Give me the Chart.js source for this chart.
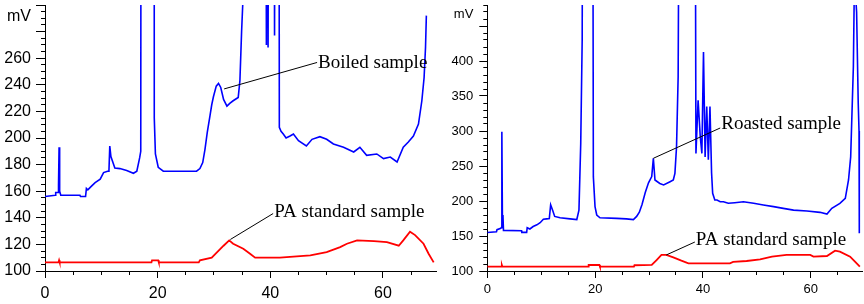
<!DOCTYPE html>
<html>
<head>
<meta charset="utf-8">
<script src="https://cdn.jsdelivr.net/npm/chart.js@4.4.1/dist/chart.umd.min.js"></script>
<style>
  html, body { margin: 0; padding: 0; background: #fff; }
  #wrap { position: relative; width: 864px; height: 304px; }
  canvas { position: absolute; top: 0; }
  #left { left: 0; }
  #right { left: 440px; }
</style>
</head>
<body>
<div id="wrap">
  <canvas id="left" width="440" height="304"></canvas>
  <canvas id="right" width="424" height="304"></canvas>
</div>
<script>
// retention time (min) / signal (mV)
const boiledTime = [0, 1.8, 1.9, 2.35, 2.4, 2.5, 2.6, 2.8, 6.2, 6.3, 7.2, 7.35, 7.6, 8.3, 8.9, 9.8, 10.4, 11.1, 11.35,
  11.5, 11.7, 12.4, 13.3, 14.5, 15.7, 16.3, 16.8, 17.0, 17.2, 19.3, 19.4, 19.6, 20.1, 21.0, 26.9, 27.5, 28.0, 28.4,
  28.8, 29.3, 29.6, 29.9, 30.4, 30.8, 31.2, 31.7, 32.3, 32.8, 33.4, 34.3, 34.6, 34.9, 35.3, 35.6, 39.0, 39.3, 39.45,
  39.6, 39.8, 40.6, 40.75, 40.9, 41.5, 41.6, 41.9, 42.3, 42.8, 43.5, 44.1, 45.0, 46.4, 47.4, 48.8, 50.0, 51.2, 53.0,
  54.8, 55.9, 57.1, 58.9, 60.1, 61.3, 62.5, 63.6, 64.5, 65.4, 66.3, 66.9, 67.3, 67.55, 67.7];
const boiledMv = [156, 157, 159, 159, 165, 193, 160, 157, 157, 156, 156, 162, 161, 164, 166.5, 169, 174, 175, 175,
  194, 186, 177.5, 177, 175.5, 173.5, 175, 185, 190, 1400, 1400, 215, 188, 178, 175, 175, 177, 181.5, 191.5,
  204, 217, 225, 231, 239, 241, 238, 229, 224, 226, 228, 230.5, 243, 280, 320, 900, 900, 270, 600,
  268, 600, 600, 277, 600, 600, 208, 205, 203, 200, 201.5, 203, 198, 194, 199, 201, 199, 195.5, 193,
  189.5, 193, 187, 188, 184.5, 185.7, 182, 193, 197, 201.5, 210.5, 228, 245.5, 268, 292];

const boiledPaTime = [0, 2.4, 2.5, 2.6, 18.9, 19.0, 20.1, 20.2, 27.3, 27.5, 29.6, 30.3, 31.0, 31.7, 32.7, 33.4, 35.2,
  36.4, 37.3, 41.7, 47.1, 50.0, 52.4, 53.6, 55.4, 58.4, 60.7, 62.8, 63.6, 64.8, 65.7, 67.2, 68.1, 69.0];
const boiledPaMv = [106.5, 106.5, 108, 106.5, 106.5, 108, 108, 106.5, 106.5, 108, 110, 113, 116, 119, 123, 120.5, 116.7,
  113, 110, 110, 111.7, 114.2, 118, 120.5, 123, 122.5, 121.7, 119, 123, 129.5, 127, 120.5, 113, 106.5];

const roastedTime = [0, 1.7, 1.8, 2.5, 2.6, 2.7, 2.8, 2.9, 3.0, 6.35, 6.4, 7.3, 7.4, 7.9, 8.5, 9.2, 9.8, 10.4, 11.0,
  11.5, 11.75, 12.1, 12.5, 13.5, 15.35, 16.6, 17.0, 17.33, 17.6, 17.9, 19.4, 19.67, 19.98, 20.3, 20.9, 24.0, 25.8,
  27.1, 27.7, 28.2, 28.7, 29.3, 29.9, 30.5, 30.8, 31.1, 32.0, 32.7, 33.9, 34.5, 34.8, 35.1, 35.4, 35.7, 38.5, 38.7,
  39.1, 39.5, 39.8, 40.1, 40.4, 40.7, 41.0, 41.3, 41.6, 41.8, 42.2, 42.6, 43.2, 43.8, 44.7, 45.9, 47.5, 49.4, 51.2,
  53.1, 54.9, 56.8, 59.3, 61.7, 63.0, 63.9, 65.4, 66.4, 67.0, 67.4, 67.9, 68.1, 68.5, 68.8, 68.95, 69.0];
const roastedMv = [155, 156, 159, 161, 162, 299, 179, 180, 158, 157.6, 155.2, 155.2, 161.8, 160, 163.5, 166, 169, 174, 174.5,
  175, 194.5, 187, 178, 176, 174.5, 173.5, 187, 282, 430, 1500, 1500, 234.8, 192, 180, 176, 175.2, 174.5,
  173.5, 178, 184, 195, 212, 226, 235, 261, 230, 225, 223, 227.6, 230, 239.5, 277.6, 378, 900, 900, 268,
  344, 292, 268, 413, 263, 335, 259, 335, 240, 211, 201.4, 201.4, 199, 199, 196.7, 197.6, 199, 196.7, 194.3,
  192, 189.5, 187, 185.7, 183.8, 181.4, 189.5, 196.7, 203.8, 230, 263, 392, 520, 470, 340, 300, 154];

const roastedPaTime = [0, 2.6, 2.7, 2.8, 18.7, 18.8, 20.8, 20.9, 27.2, 27.3, 30.5, 31.4, 32.3, 33.2, 34.5, 36.0, 37.3,
  45.0, 45.6, 48.1, 50.6, 52.8, 55.5, 59.9, 60.5, 63.0, 64.5, 65.4, 67.3, 68.2, 69.1];
const roastedPaMv = [106.2, 106.2, 108.6, 106.2, 106.2, 108.6, 108.6, 106.2, 106.2, 108.2, 108.6, 115.7, 122.9, 122.9, 119.5, 114.8, 111,
  111, 112.9, 114.3, 116.7, 120.5, 122.9, 122.9, 120.5, 121.4, 129, 127.6, 120.5, 113.3, 106.2];

// axis ticks
const xMajorTicks = [0, 20, 40, 60];
const boiledYMajor = [100, 120, 140, 160, 180, 200, 220, 240, 260, 280, 300];
const boiledYLabels = [100, 120, 140, 160, 180, 200, 220, 240, 260];
const roastedYMajor = [100, 150, 200, 250, 300, 350, 400, 450];
const roastedYLabels = [100, 150, 200, 250, 300, 350, 400];

function range(a, b, step) {
  const out = [];
  for (let v = a; v <= b + 1e-9; v += step) out.push(v);
  return out;
}

function pts(t, v) {
  return t.map((x, i) => ({ x: x, y: v[i] }));
}

// keep the plot area where the original has it (no extra room for edge labels)
function noPad(s) {
  s.paddingTop = 0;
  s.paddingBottom = 0;
  s.paddingLeft = 0;
  s.paddingRight = 0;
}

// black leader lines with serif labels
const callouts = {
  id: 'callouts',
  afterDatasetsDraw(chart, args, opts) {
    const { ctx } = chart;
    const xs = chart.scales.x, ys = chart.scales.y;
    ctx.save();
    ctx.strokeStyle = '#000';
    ctx.lineWidth = 1;
    ctx.fillStyle = '#000';
    ctx.font = opts.font;
    ctx.textBaseline = 'middle';
    ctx.textAlign = 'left';
    opts.items.forEach(it => {
      const x0 = xs.getPixelForValue(it.from[0]), y0 = ys.getPixelForValue(it.from[1]);
      const x1 = xs.getPixelForValue(it.to[0]), y1 = ys.getPixelForValue(it.to[1]);
      ctx.beginPath();
      ctx.moveTo(x0, y0);
      ctx.lineTo(x1, y1);
      ctx.stroke();
      ctx.fillText(it.text, x1 + 1, y1 + it.dy);
    });
    ctx.restore();
  }
};

function makePanel(id, p) {
  const tickFont = { family: 'Liberation Sans', size: p.fontSize };
  return new Chart(document.getElementById(id), {
    type: 'line',
    data: {
      datasets: [
        { data: pts(p.sampleT, p.sampleV), borderColor: '#0000ff', borderWidth: 1.6 },
        { data: pts(p.paT, p.paV), borderColor: '#ff0000', borderWidth: 1.8 }
      ]
    },
    options: {
      responsive: false,
      animation: false,
      events: [],
      elements: { point: { radius: 0 }, line: { tension: 0 } },
      layout: { padding: { left: 0, top: 5, right: p.padRight, bottom: 0 } },
      plugins: {
        legend: { display: false },
        tooltip: { enabled: false },
        callouts: { font: '19px "Liberation Serif"', items: p.callouts }
      },
      scales: {
        x: {
          type: 'linear', position: 'bottom', weight: 1,
          min: 0, max: p.xMax,
          afterBuildTicks: s => { s.ticks = xMajorTicks.map(v => ({ value: v })); },
          afterFit: s => { s.height = 33; noPad(s); },
          grid: { drawOnChartArea: false, tickLength: 7, color: '#000' },
          border: { color: '#000', width: 1 },
          ticks: { autoSkip: false, maxRotation: 0, padding: p.xPad, color: '#000', font: tickFont }
        },
        x2: {
          type: 'linear', position: 'bottom', weight: 0,
          min: 0, max: p.xMax,
          afterBuildTicks: s => { s.ticks = range(0, 65, 5).map(v => ({ value: v })); },
          afterFit: s => { s.height = 0; noPad(s); },
          grid: { drawOnChartArea: false, tickLength: 4, color: '#000' },
          border: { color: '#000', width: 1 },
          ticks: { display: false }
        },
        y: {
          type: 'linear', position: 'left', weight: 1,
          min: p.yMin, max: p.yMax,
          afterBuildTicks: s => { s.ticks = p.yMajor.concat([p.unitAt]).map(v => ({ value: v })); },
          afterFit: s => { s.width = p.axisLeft; noPad(s); },
          grid: {
            drawOnChartArea: false, tickLength: p.yTick,
            color: ctx => (ctx.tick && ctx.tick.value === p.unitAt) ? 'rgba(0,0,0,0)' : '#000'
          },
          border: { color: '#000', width: 1 },
          ticks: {
            autoSkip: false, padding: p.yPad, color: '#000', font: tickFont,
            callback: v => v === p.unitAt ? 'mV' : (p.yLabels.includes(v) ? String(v) : '')
          }
        },
        y2: {
          type: 'linear', position: 'left', weight: 0,
          min: p.yMin, max: p.yMax,
          afterBuildTicks: s => { s.ticks = range(p.yMin, p.yMax, p.yMinorStep).map(v => ({ value: v })); },
          afterFit: s => { s.width = 0; noPad(s); },
          grid: { drawOnChartArea: false, tickLength: 4, color: '#000' },
          border: { color: '#000', width: 1 },
          ticks: { display: false }
        }
      }
    },
    plugins: [callouts]
  });
}

makePanel('left', {
  sampleT: boiledTime, sampleV: boiledMv, paT: boiledPaTime, paV: boiledPaMv,
  xMax: 69.5, yMin: 100, yMax: 300, yMajor: boiledYMajor, yLabels: boiledYLabels, yMinorStep: 5,
  unitAt: 291, axisLeft: 45, padRight: 3.5, fontSize: 16, yTick: 9, yPad: 5, xPad: 6,
  callouts: [
    { text: 'Boiled sample', from: [31.8, 236.9], to: [48.3, 256.8], dy: 1 },
    { text: 'PA standard sample', from: [32.9, 123.7], to: [40.5, 143.2], dy: -2 }
  ]
});

makePanel('right', {
  sampleT: roastedTime, sampleV: roastedMv, paT: roastedPaTime, paV: roastedPaMv,
  xMax: 69.5, yMin: 100, yMax: 480, yMajor: roastedYMajor, yLabels: roastedYLabels, yMinorStep: 10,
  unitAt: 466, axisLeft: 47.3, padRight: 2, fontSize: 13, yTick: 8, yPad: 6, xPad: 4,
  callouts: [
    { text: 'Roasted sample', from: [30.8, 261], to: [43.2, 304.3], dy: -4 },
    { text: 'PA standard sample', from: [33.2, 122.9], to: [38.5, 141.4], dy: -2 }
  ]
});
</script>
</body>
</html>
